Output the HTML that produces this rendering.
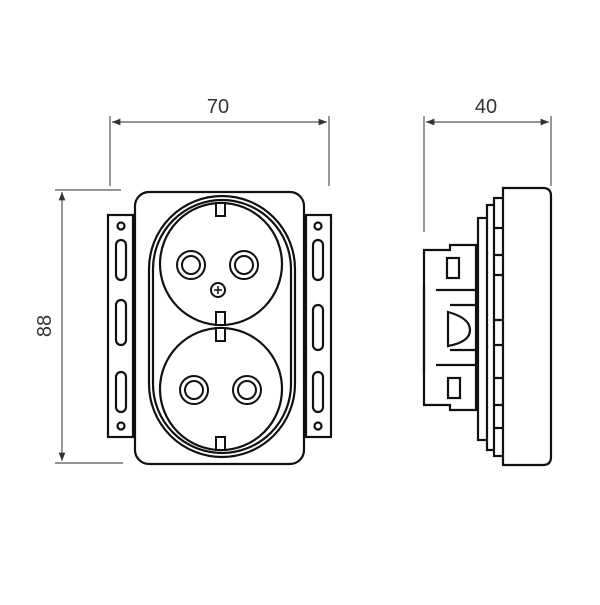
<!DOCTYPE html>
<html><head><style>body{margin:0;background:#fff}</style></head><body>
<svg width="600" height="600" viewBox="0 0 600 600" xmlns="http://www.w3.org/2000/svg" font-family="Liberation Sans, sans-serif">
<defs><marker id="a" viewBox="0 0 10 10" refX="10" refY="5" markerWidth="10" markerHeight="7" orient="auto-start-reverse"><path d="M0,1 L10,5 L0,9 Z" fill="#333"/></marker></defs>
<g stroke="#555" stroke-width="1.2" fill="none">
<line x1="110" y1="116" x2="110" y2="186"/><line x1="329" y1="116" x2="329" y2="186"/>
<line x1="112" y1="122" x2="327" y2="122" marker-start="url(#a)" marker-end="url(#a)"/>
<line x1="55" y1="190" x2="121" y2="190"/><line x1="55" y1="463" x2="123" y2="463"/>
<line x1="62" y1="192" x2="62" y2="461" marker-start="url(#a)" marker-end="url(#a)"/>
<line x1="424" y1="116" x2="424" y2="232"/><line x1="551" y1="116" x2="551" y2="186"/>
<line x1="426" y1="122" x2="549" y2="122" marker-start="url(#a)" marker-end="url(#a)"/>
</g>
<g fill="#333" font-size="20" text-anchor="middle">
<text x="218" y="113">70</text><text x="486" y="113">40</text>
<text transform="translate(51,326) rotate(-90)">88</text>
</g>
<g stroke="#111" stroke-width="2.2" fill="#fff">
<rect x="108" y="215" width="25" height="222"/><rect x="306" y="215" width="25" height="222"/>
<circle cx="121" cy="226" r="3.5"/><circle cx="121" cy="426" r="3.5"/>
<circle cx="318" cy="226" r="3.5"/><circle cx="318" cy="426" r="3.5"/>
<rect x="116" y="240" width="10" height="40" rx="5"/><rect x="116" y="300" width="10" height="45" rx="5"/><rect x="116" y="372" width="10" height="40" rx="5"/>
<rect x="313" y="240" width="10" height="40" rx="5"/><rect x="313" y="305" width="10" height="45" rx="5"/><rect x="313" y="372" width="10" height="40" rx="5"/>
<rect x="135" y="192" width="169" height="272" rx="14"/>
<rect x="149" y="196" width="146" height="261" rx="73"/>
<rect x="153" y="200" width="138" height="253" rx="69"/>
<circle cx="221" cy="264" r="61"/><circle cx="221" cy="389" r="61"/>
<g stroke-width="2">
<rect x="216" y="203" width="9" height="13"/><rect x="216" y="312" width="9" height="13"/>
<rect x="216" y="328" width="9" height="13"/><rect x="216" y="437" width="9" height="13"/>
<circle cx="191" cy="265" r="14"/><circle cx="191" cy="265" r="9"/>
<circle cx="244" cy="265" r="14"/><circle cx="244" cy="265" r="9"/>
<circle cx="194" cy="390" r="14"/><circle cx="194" cy="390" r="9"/>
<circle cx="247" cy="390" r="14"/><circle cx="247" cy="390" r="9"/>
<circle cx="218" cy="290" r="7"/>
</g>
<path d="M214,290h8M218,286v8" stroke-width="1.5"/>
</g>
<g stroke="#111" stroke-width="2.2" fill="#fff">
<rect x="478" y="218" width="10" height="222"/>
<rect x="487" y="205" width="10" height="245"/>
<rect x="494" y="198" width="10" height="258"/>
<path d="M503,188 H543 Q551,188 551,196 V457 Q551,465 543,465 H503 Z"/>
<path d="M424,250 H450 V245 H476 V410 H450 V405 H424 Z"/>
<rect x="447" y="258" width="12" height="20"/><rect x="448" y="378" width="12" height="20"/>
<path d="M436,290 H476 M436,365 H476 M450,305 H476 M450,350 H476"/>
<path d="M448,312 Q470,318 470,330 Q470,342 448,346 Z"/>
<path d="M424,285 V372"/>
<path d="M495,228h9M495,255h9M495,275h9M495,320h9M495,345h9M495,378h9M495,405h9M495,428h9"/>
</g>
</svg>
</body></html>
